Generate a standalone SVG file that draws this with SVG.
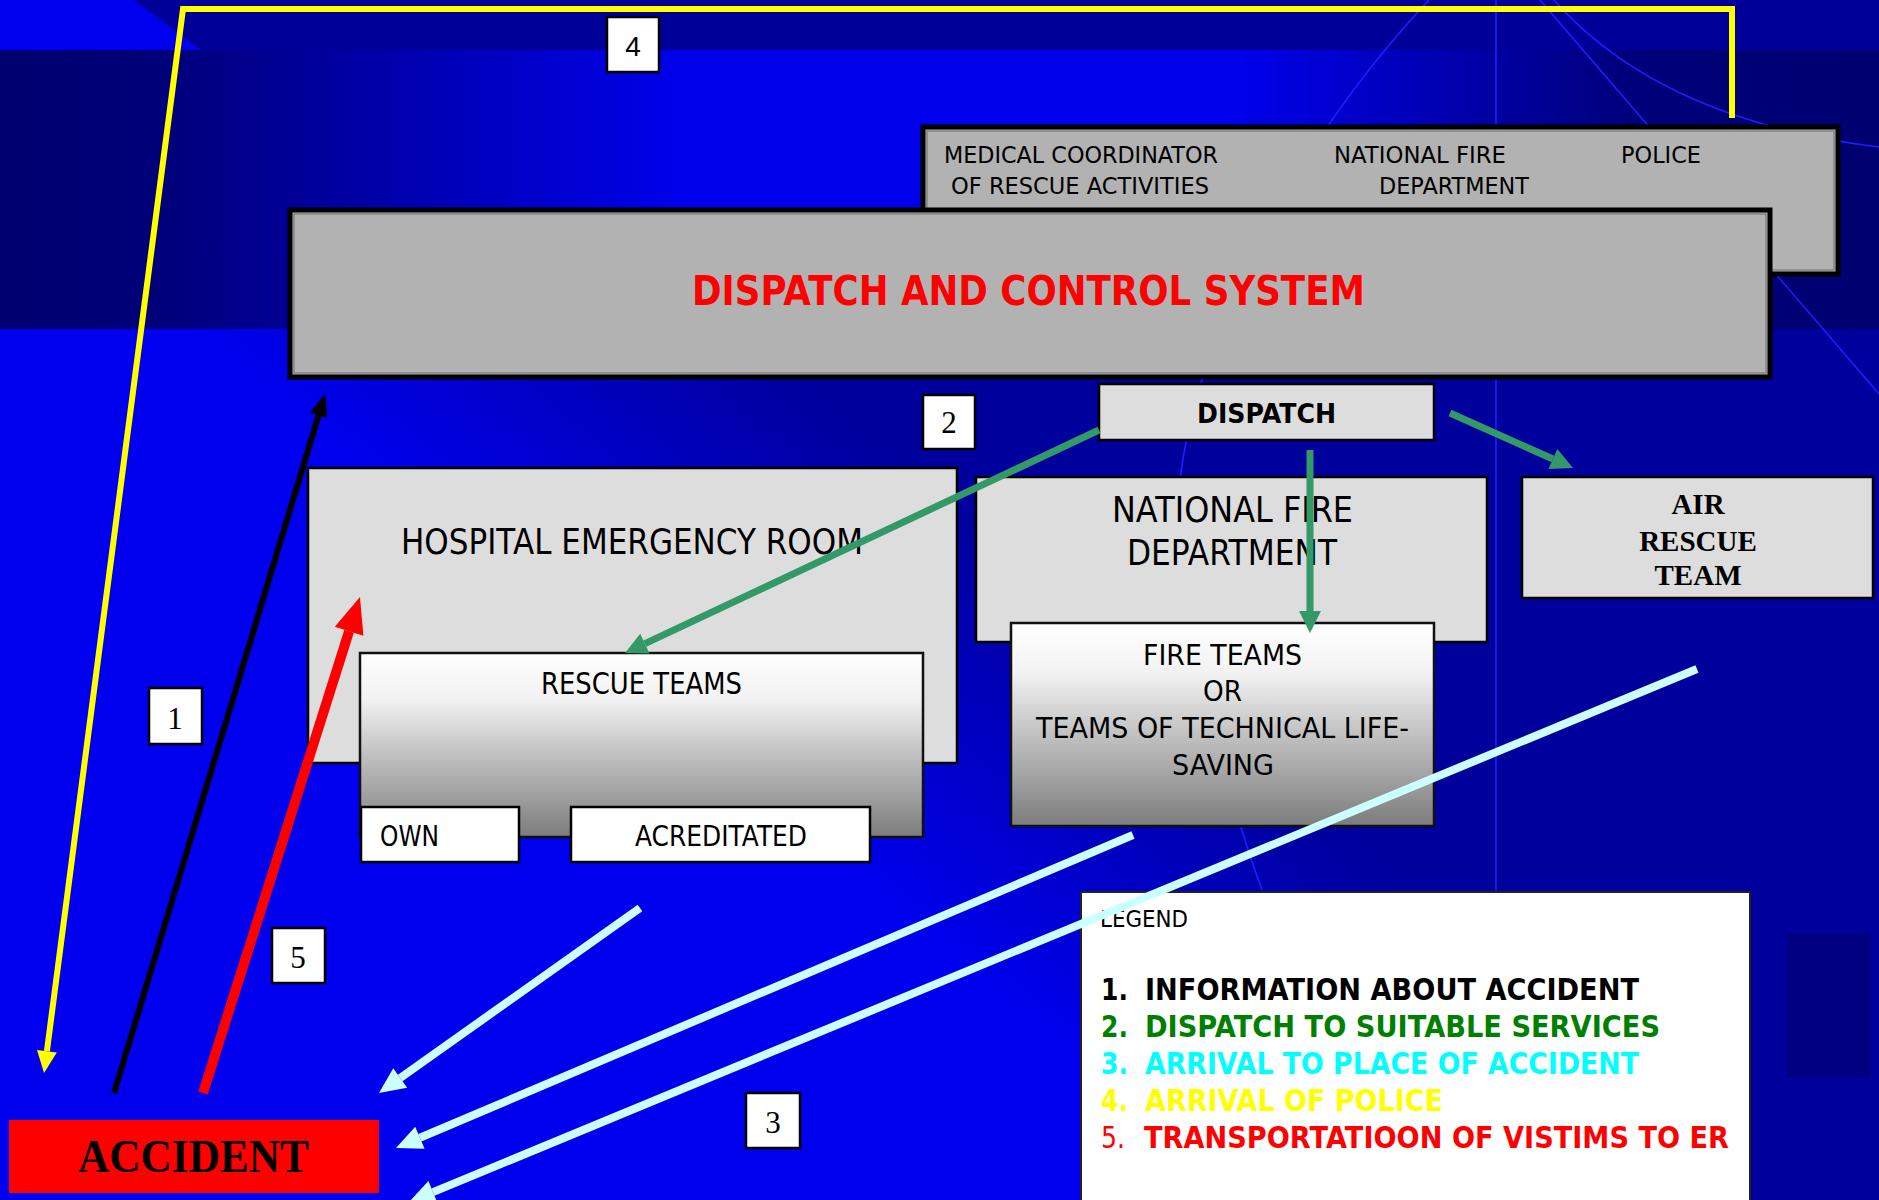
<svg xmlns="http://www.w3.org/2000/svg" width="1879" height="1200" viewBox="0 0 1879 1200">
<defs>
  <style>
    .box-gr { fill:#b2b2b2; stroke:#000; stroke-width:5; }
    .bevel { fill:none; stroke:#7a7a7a; stroke-width:1.2; }
    .box-lt { fill:#dddddd; stroke:#000; stroke-width:2.5; }
    .box-grad { fill:url(#teamGrad); stroke:#111; stroke-width:2.5; }
    .box-wh { fill:#ffffff; stroke:#000; stroke-width:2.5; }
    .t { font-family:"DejaVu Sans","Liberation Sans",Arial,sans-serif; fill:#000; }
    .tb { font-family:"DejaVu Sans","Liberation Sans",Arial,sans-serif; font-weight:bold; }
    .serif { font-family:"Liberation Serif","Times New Roman",serif; fill:#000; }
    .bg-line { fill:none; stroke:#1e1eff; stroke-width:1.6; }
    .c-black { stroke:#000; stroke-width:6; fill:none; }
    .c-red { stroke:#ff0000; stroke-width:10; fill:none; }
    .c-yellow { stroke:#ffff00; stroke-width:6; fill:none; stroke-linejoin:miter; }
    .c-green { stroke:#339966; stroke-width:7; fill:none; }
    .c-cyan { stroke:#ccffff; stroke-width:8; fill:none; }
  </style>
  <linearGradient id="bandGrad" gradientUnits="userSpaceOnUse" x1="0" y1="0" x2="1879" y2="0">
    <stop offset="0" stop-color="#000070"/>
    <stop offset="0.08" stop-color="#000078"/>
    <stop offset="0.36" stop-color="#0000ea"/>
    <stop offset="0.66" stop-color="#0000ea"/>
    <stop offset="0.87" stop-color="#00007a"/>
    <stop offset="1" stop-color="#000070"/>
  </linearGradient>
  <linearGradient id="lowGrad" gradientUnits="userSpaceOnUse" x1="463" y1="555" x2="687" y2="285">
    <stop offset="0" stop-color="#0000ee"/>
    <stop offset="1" stop-color="#00009c"/>
  </linearGradient>
  <linearGradient id="teamGrad" x1="0" y1="0" x2="0" y2="1">
    <stop offset="0" stop-color="#ffffff"/>
    <stop offset="0.25" stop-color="#f2f2f2"/>
    <stop offset="0.53" stop-color="#c4c4c4"/>
    <stop offset="0.8" stop-color="#9c9c9c"/>
    <stop offset="1" stop-color="#7c7c7c"/>
  </linearGradient>
  <marker id="ah-black" markerUnits="userSpaceOnUse" markerWidth="22" markerHeight="18" refX="0" refY="9" orient="auto" overflow="visible">
    <path d="M0,0 L22,9 L0,18 z" fill="#000"/>
  </marker>
  <marker id="ah-red" markerUnits="userSpaceOnUse" markerWidth="36" markerHeight="30" refX="0" refY="15" orient="auto" overflow="visible">
    <path d="M0,0 L36,15 L0,30 z" fill="#ff0000"/>
  </marker>
  <marker id="ah-yellow" markerUnits="userSpaceOnUse" markerWidth="22" markerHeight="20" refX="0" refY="10" orient="auto" overflow="visible">
    <path d="M0,0 L22,10 L0,20 z" fill="#ffff00"/>
  </marker>
  <marker id="ah-green" markerUnits="userSpaceOnUse" markerWidth="22" markerHeight="22" refX="0" refY="11" orient="auto" overflow="visible">
    <path d="M0,0 L22,11 L0,22 z" fill="#339966"/>
  </marker>
  <marker id="ah-cyan" markerUnits="userSpaceOnUse" markerWidth="26" markerHeight="24" refX="0" refY="12" orient="auto" overflow="visible">
    <path d="M0,0 L26,12 L0,24 z" fill="#ccffff"/>
  </marker>
</defs>

<g id="background">
  <rect x="0" y="0" width="1879" height="1200" fill="#00009c"/>
  <rect x="0" y="0" width="1879" height="50" fill="#000099"/>
  <polygon points="0,0 134,0 201,50 0,50" fill="#0000ee"/>
  <rect x="0" y="50" width="1879" height="279" fill="url(#bandGrad)"/>
  <rect x="0" y="329" width="1496" height="871" fill="url(#lowGrad)"/>
  <rect x="1496" y="329" width="383" height="871" fill="#00009c"/>
  <rect x="1787" y="933" width="84" height="145" fill="#000080"/>
  <line class="bg-line" x1="1496" y1="0" x2="1496" y2="1200"/>
  <path class="bg-line" d="M1429,0 C1260,180 1160,420 1180,560 S1240,830 1262,890"/>
  <line class="bg-line" x1="1540" y1="0" x2="1879" y2="394"/>
  <path class="bg-line" d="M1554,0 Q1660,120 1879,147"/>
</g>

<g id="node-services">
  <rect class="box-gr" x="923" y="127" width="915" height="147"/>
  <rect class="bevel" x="927" y="131" width="907" height="139"/>
  <text class="t" x="944" y="163" font-size="23" textLength="274" lengthAdjust="spacingAndGlyphs">MEDICAL COORDINATOR</text>
  <text class="t" x="951" y="194" font-size="23" textLength="258" lengthAdjust="spacingAndGlyphs">OF RESCUE ACTIVITIES</text>
  <text class="t" x="1334" y="163" font-size="23" textLength="172" lengthAdjust="spacingAndGlyphs">NATIONAL FIRE</text>
  <text class="t" x="1379" y="194" font-size="23" textLength="150" lengthAdjust="spacingAndGlyphs">DEPARTMENT</text>
  <text class="t" x="1621" y="163" font-size="23" textLength="80" lengthAdjust="spacingAndGlyphs">POLICE</text>
</g>

<g id="node-dispatch-control">
  <rect class="box-gr" x="290" y="210" width="1480" height="167"/>
  <rect class="bevel" x="294" y="214" width="1472" height="159"/>
  <text class="tb" x="692" y="305" font-size="41" fill="#ff0000" textLength="673" lengthAdjust="spacingAndGlyphs">DISPATCH AND CONTROL SYSTEM</text>
</g>

<g id="node-dispatch">
  <rect class="box-lt" x="1099" y="384" width="335" height="56"/>
  <text class="tb" x="1197" y="423" font-size="27" fill="#000" textLength="139" lengthAdjust="spacingAndGlyphs">DISPATCH</text>
</g>

<g id="node-hospital">
  <rect class="box-lt" x="308" y="468" width="649" height="295"/>
  <text class="t" x="401" y="554" font-size="35" textLength="462" lengthAdjust="spacingAndGlyphs">HOSPITAL EMERGENCY ROOM</text>
</g>

<g id="node-rescue-teams">
  <rect class="box-grad" x="360" y="653" width="563" height="184"/>
  <text class="t" x="541" y="694" font-size="30" textLength="201" lengthAdjust="spacingAndGlyphs">RESCUE TEAMS</text>
</g>

<g id="node-own">
  <rect class="box-wh" x="361" y="807" width="158" height="55"/>
  <text class="t" x="380" y="846" font-size="29" textLength="59" lengthAdjust="spacingAndGlyphs">OWN</text>
</g>

<g id="node-acreditated">
  <rect class="box-wh" x="571" y="807" width="299" height="55"/>
  <text class="t" x="635" y="846" font-size="29" textLength="172" lengthAdjust="spacingAndGlyphs">ACREDITATED</text>
</g>

<g id="node-national-fire">
  <rect class="box-lt" x="976" y="477" width="511" height="165"/>
  <text class="t" x="1112" y="522" font-size="36" textLength="241" lengthAdjust="spacingAndGlyphs">NATIONAL FIRE</text>
  <text class="t" x="1127" y="565" font-size="36" textLength="210" lengthAdjust="spacingAndGlyphs">DEPARTMENT</text>
</g>

<g id="node-fire-teams">
  <rect class="box-grad" x="1011" y="623" width="423" height="203"/>
  <text class="t" x="1143" y="665" font-size="29" textLength="159" lengthAdjust="spacingAndGlyphs">FIRE TEAMS</text>
  <text class="t" x="1203" y="701" font-size="29" textLength="39" lengthAdjust="spacingAndGlyphs">OR</text>
  <text class="t" x="1036" y="738" font-size="29" textLength="373" lengthAdjust="spacingAndGlyphs">TEAMS OF TECHNICAL LIFE-</text>
  <text class="t" x="1172" y="775" font-size="29" textLength="102" lengthAdjust="spacingAndGlyphs">SAVING</text>
</g>

<g id="node-air-rescue">
  <rect class="box-lt" x="1522" y="477" width="351" height="121"/>
  <text class="serif" x="1698" y="514" font-size="29" font-weight="bold" text-anchor="middle">AIR</text>
  <text class="serif" x="1698" y="551" font-size="29" font-weight="bold" text-anchor="middle">RESCUE</text>
  <text class="serif" x="1698" y="585" font-size="29" font-weight="bold" text-anchor="middle">TEAM</text>
</g>

<g id="node-accident">
  <rect x="9" y="1120" width="370" height="73" fill="#ff0000"/>
  <text class="serif" x="78" y="1172" font-size="46" font-weight="bold" textLength="231" lengthAdjust="spacingAndGlyphs">ACCIDENT</text>
</g>

<g id="node-legend">
  <rect x="1081" y="892" width="669" height="320" fill="#ffffff" stroke="#222" stroke-width="2"/>
  <text class="t" x="1100" y="927" font-size="23" textLength="88" lengthAdjust="spacingAndGlyphs">LEGEND</text>
  <text class="tb" x="1101" y="1000" font-size="30" fill="#000000" textLength="27" lengthAdjust="spacingAndGlyphs">1.</text>
  <text class="tb" x="1145" y="1000" font-size="30" fill="#000000" textLength="494" lengthAdjust="spacingAndGlyphs">INFORMATION ABOUT ACCIDENT</text>
  <text class="tb" x="1101" y="1037" font-size="30" fill="#008000" textLength="27" lengthAdjust="spacingAndGlyphs">2.</text>
  <text class="tb" x="1145" y="1037" font-size="30" fill="#008000" textLength="515" lengthAdjust="spacingAndGlyphs">DISPATCH TO SUITABLE SERVICES</text>
  <text class="tb" x="1101" y="1074" font-size="30" fill="#00ffff" textLength="27" lengthAdjust="spacingAndGlyphs">3.</text>
  <text class="tb" x="1145" y="1074" font-size="30" fill="#00ffff" textLength="494" lengthAdjust="spacingAndGlyphs">ARRIVAL TO PLACE OF ACCIDENT</text>
  <text class="tb" x="1101" y="1111" font-size="30" fill="#ffff00" textLength="27" lengthAdjust="spacingAndGlyphs">4.</text>
  <text class="tb" x="1145" y="1111" font-size="30" fill="#ffff00" textLength="298" lengthAdjust="spacingAndGlyphs">ARRIVAL OF POLICE</text>
  <text class="t" x="1101" y="1148" font-size="30" style="fill:#ff0000" textLength="24" lengthAdjust="spacingAndGlyphs">5.</text>
  <text class="tb" x="1144" y="1148" font-size="30" fill="#ff0000" textLength="585" lengthAdjust="spacingAndGlyphs">TRANSPORTATIOON OF VISTIMS TO ER</text>
</g>

<g id="label-4">
  <rect class="box-wh" x="607" y="17" width="52" height="55"/>
  <text x="633" y="56" font-family="Liberation Sans, Arial, sans-serif" font-size="28" text-anchor="middle">4</text>
</g>
<g id="label-1">
  <rect class="box-wh" x="149" y="688" width="53" height="56"/>
  <text class="serif" x="175" y="729" font-size="31" text-anchor="middle">1</text>
</g>
<g id="label-2">
  <rect class="box-wh" x="923" y="395" width="52" height="54"/>
  <text class="serif" x="949" y="433" font-size="31" text-anchor="middle">2</text>
</g>
<g id="label-5">
  <rect class="box-wh" x="272" y="928" width="53" height="55"/>
  <text class="serif" x="298" y="968" font-size="31" text-anchor="middle">5</text>
</g>
<g id="label-3">
  <rect class="box-wh" x="746" y="1093" width="54" height="55"/>
  <text class="serif" x="773" y="1133" font-size="31" text-anchor="middle">3</text>
</g>

<g id="connectors">
  <path class="c-yellow" d="M1732,118 L1732,9 L183,9 L46.9,1051.2" marker-end="url(#ah-yellow)"/>
  <line class="c-black" x1="114" y1="1093" x2="318.6" y2="415.1" marker-end="url(#ah-black)"/>
  <line class="c-red" x1="203" y1="1093" x2="349.1" y2="631.3" marker-end="url(#ah-red)"/>
  <line class="c-green" x1="1099" y1="430" x2="644.9" y2="643.6" marker-end="url(#ah-green)"/>
  <line class="c-green" x1="1310" y1="450" x2="1310" y2="611" marker-end="url(#ah-green)"/>
  <line class="c-green" x1="1450" y1="413" x2="1552.9" y2="459" marker-end="url(#ah-green)"/>
  <line class="c-cyan" x1="640" y1="908" x2="400.2" y2="1078" marker-end="url(#ah-cyan)"/>
  <line class="c-cyan" x1="1133" y1="835" x2="419.9" y2="1137.8" marker-end="url(#ah-cyan)"/>
  <line class="c-cyan" x1="1697" y1="669" x2="433" y2="1192.1" marker-end="url(#ah-cyan)"/>
</g>
</svg>
